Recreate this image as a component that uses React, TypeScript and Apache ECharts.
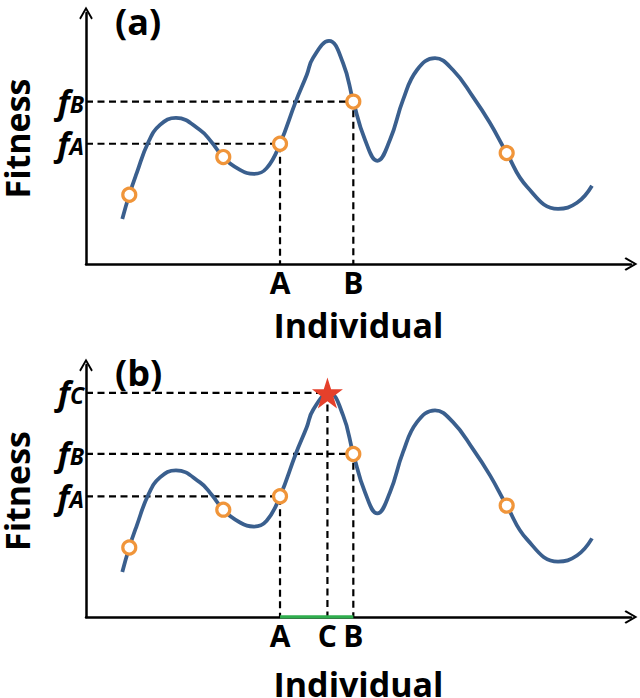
import React, { useEffect, useRef } from 'react';
import * as echarts from 'echarts';

// Fitness landscape (arbitrary units: x 0..100 "Individual", y 0..100 "Fitness")
const curveX = [6.66, 7.94, 9.3, 11.43, 13.58, 16.51, 20.92, 23.06, 25.19, 28.26, 30.83, 33.15, 35.6, 38.48, 40.5, 41.65, 44.59, 47.16, 49.05, 51.19, 53.45, 55.78, 58.17, 60.73, 64.04, 67.34, 71.01, 74.13, 77.19, 80.92, 86.61, 90.09, 92.84];
const curveY = [17.9, 27.6, 36.2, 48.5, 55.4, 58.2, 53.4, 48.5, 42.6, 37.5, 35.9, 38.2, 47.9, 64.7, 75.3, 82.1, 88.9, 80.1, 64.7, 49.5, 41.1, 49.5, 65.4, 77.3, 82.0, 77.3, 66.6, 56.2, 44.2, 30.8, 22.0, 24.4, 31.2];

// sampled individuals (orange circles)
const sampleX = [7.94, 25.19, 35.6, 49.05, 77.19];
const sampleY = [27.6, 42.6, 47.9, 64.7, 44.2];

const pointA = [35.6, 47.9];
const pointB = [49.05, 64.7];
const pointC = [44.3, 88.9];

const xLabelsA = ['A', 'B'];
const xLabelsB = ['A', 'C', 'B'];
const yLabelsA = ['A', 'B'];
const yLabelsB = ['A', 'B', 'C'];

const FONT = 'Open Sans';
const CURVE = '#3a5f8e';
const ORANGE = '#f0953a';
const ARROW = 'path://M5,0 L10,8.6 L8.9,9.6 L5,2.8 L1.1,9.6 L0,8.6 Z';

function nearestLabel(v: number, vals: number[], labels: string[]) {
  let best = 0;
  for (let i = 0; i < vals.length; i++) {
    if (Math.abs(vals[i] - v) < Math.abs(vals[best] - v)) best = i;
  }
  return labels[best];
}

function makeAxes(idx: number, xVals: number[], xLabels: string[], yVals: number[], yLabels: string[], nameGap: number, nameLH: number) {
  const axisLine = {
    show: true,
    symbol: ['none', ARROW],
    symbolSize: [15, 13],
    lineStyle: { color: '#000', width: 2.5 },
  };
  const xAxis = {
    type: 'value',
    gridIndex: idx,
    min: 0,
    max: 100,
    axisLine,
    axisTick: { show: false },
    splitLine: { show: false },
    axisLabel: {
      customValues: xVals,
      margin: 3,
      fontSize: 30,
      fontWeight: 'bold',
      fontFamily: FONT,
      color: '#000',
      formatter: (v: number) => nearestLabel(v, xVals, xLabels),
    },
    name: 'Individual',
    nameLocation: 'middle',
    nameGap,
    nameTextStyle: { fontSize: 34, lineHeight: nameLH, fontWeight: 'bold', fontFamily: FONT, color: '#000' },
  };
  const yAxis = {
    type: 'value',
    gridIndex: idx,
    min: 0,
    max: 100,
    axisLine,
    axisTick: { show: false },
    splitLine: { show: false },
    axisLabel: {
      customValues: yVals,
      margin: 2,
      color: '#000',
      formatter: (v: number) => '{f|f}{s|' + nearestLabel(v, yVals, yLabels) + '}',
      rich: {
        f: { fontSize: 33, fontStyle: 'italic', fontWeight: 'bold', fontFamily: FONT, color: '#000', lineHeight: 28 },
        s: { fontSize: 23, fontStyle: 'italic', fontWeight: 'bold', fontFamily: FONT, color: '#000', verticalAlign: 'bottom', lineHeight: 18 },
      },
    },
    name: 'Fitness',
    nameLocation: 'middle',
    nameRotate: 90,
    nameGap: 56,
    nameTextStyle: { fontSize: 34, lineHeight: 26, fontWeight: 'bold', fontFamily: FONT, color: '#000' },
  };
  return { xAxis, yAxis };
}

const dashStyle = { color: '#000', width: 2.2, type: [7, 4.5] };

function dashed(idx: number, p: number[]) {
  return {
    type: 'line',
    xAxisIndex: idx,
    yAxisIndex: idx,
    data: [[0, p[1]], [p[0], p[1]], [p[0], 0]],
    symbol: 'none',
    lineStyle: dashStyle,
    z: 1,
    silent: true,
  };
}

function panelSeries(idx: number) {
  const curve = curveX.map((x, i) => [x, curveY[i]]);
  const samples = sampleX.map((x, i) => [x, sampleY[i]]);
  return [
    {
      type: 'line',
      xAxisIndex: idx,
      yAxisIndex: idx,
      data: curve,
      smooth: 0.45,
      symbol: 'none',
      lineStyle: { color: CURVE, width: 3.8 },
      z: 3,
    },
    {
      type: 'scatter',
      xAxisIndex: idx,
      yAxisIndex: idx,
      data: samples,
      symbol: 'circle',
      symbolSize: 13,
      itemStyle: { color: '#fff', borderColor: ORANGE, borderWidth: 3.2, opacity: 1 },
      z: 5,
    },
  ];
}

export default function App() {
  const ref = useRef<HTMLDivElement>(null);
  useEffect(() => {
    if (!ref.current) return;
    const chart = echarts.init(ref.current, undefined, { renderer: 'svg' });
    const a = makeAxes(0, [pointA[0], pointB[0]], xLabelsA, [pointA[1], pointB[1]], yLabelsA, 46, 30);
    const b = makeAxes(1, [pointA[0], pointC[0], pointB[0]], xLabelsB, [pointA[1], pointB[1], pointC[1]], yLabelsB, 55, 24);
    chart.setOption({
      animation: false,
      backgroundColor: '#fff',
      title: [
        { text: '(a)', left: 110, top: -2, textStyle: { fontSize: 36, fontWeight: 'bold', fontFamily: FONT, color: '#000' } },
        { text: '(b)', left: 110, top: 349, textStyle: { fontSize: 36, fontWeight: 'bold', fontFamily: FONT, color: '#000' } },
      ],
      grid: [
        { left: 86, right: 9, top: 13, height: 251, outerBoundsMode: 'none', containLabel: false },
        { left: 86, right: 9, top: 365, height: 252, outerBoundsMode: 'none', containLabel: false },
      ],
      xAxis: [a.xAxis, b.xAxis],
      yAxis: [a.yAxis, b.yAxis],
      series: [
        dashed(0, pointA),
        dashed(0, pointB),
        ...panelSeries(0),
        dashed(1, pointA),
        dashed(1, pointB),
        dashed(1, pointC),
        ...panelSeries(1),
        {
          type: 'line',
          xAxisIndex: 1,
          yAxisIndex: 1,
          data: [[pointA[0], 0], [pointB[0], 0]],
          symbol: 'none',
          lineStyle: { color: '#2fae4e', width: 3.5 },
          z: 2,
        },
        {
          type: 'scatter',
          xAxisIndex: 1,
          yAxisIndex: 1,
          data: [pointC],
          symbol: 'path://M50,0 L61.8,36.2 L100,36.2 L69.1,58.5 L80.9,95.1 L50,72.6 L19.1,95.1 L30.9,58.5 L0,36.2 L38.2,36.2 Z',
          symbolSize: 31,
          itemStyle: { color: '#e5402b', opacity: 1 },
          z: 6,
        },
      ],
    });
    return () => chart.dispose();
  }, []);
  return <div ref={ref} style={{ position: 'fixed', left: 0, top: 0, width: 640, height: 698 }} />;
}
